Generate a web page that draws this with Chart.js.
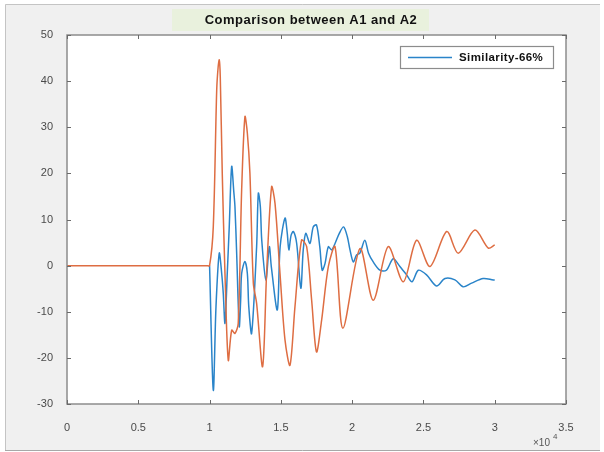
<!DOCTYPE html>
<html>
<head>
<meta charset="utf-8">
<script src="https://cdn.jsdelivr.net/npm/chart.js@4.4.1/dist/chart.umd.min.js"></script>
<style>
  html, body { margin: 0; padding: 0; background: #ffffff; }
  #wrap { width: 604px; height: 452px; }
</style>
</head>
<body>
<div id="wrap"><canvas id="cmp" width="604" height="452"></canvas></div>
<script>
const titleText = "Comparison between A1 and A2"
const legendLabel = "Similarity-66%"
const xTicks = [0, 5000, 10000, 15000, 20000, 25000, 30000, 35000]
const yTicks = [-30, -20, -10, 0, 10, 20, 30, 40, 50]

// A1 (orange), sample index vs value
const a1X = [0, 5000, 9800, 10000, 10260, 10500, 10600, 10680, 10750, 10890, 11080, 11310, 11550, 11780, 12010,
  12250, 12480, 12650, 12830, 13070, 13300, 13720, 14000, 14350, 14590, 14940, 15290, 15640,
  15990, 16450, 16810, 17160, 17500, 17860, 18330, 18800, 19350, 20550, 21480, 22530, 23590,
  24520, 25460, 26630, 27440, 28610, 29550, 30000]
const a1Y = [0, 0, 0, 0, 8.4, 38, 43, 44.6, 41, 20, -1.7, -20.5, -14, -14.7, -12.5,
  16.4, 32.3, 28.7, 20, -3.8, -8.2, -21.9, -1.7, 17.1, 13.5, -1.7, -16.1, -21.6,
  -8.9, 5.5, 4.1, -7.5, -18.7, -11.8, -0.2, 4.1, -13.6, 3.7, -7.5, 4.1, -3.5,
  5.5, -0.2, 7.4, 2.7, 7.7, 3.8, 4.5]

// A2 (blue)
const a2X = [10000, 10260, 10450, 10680, 10850, 10960, 11080, 11240, 11380, 11550, 11700, 11780,
  11900, 12080, 12180, 12250, 12480, 12650, 12750, 12950, 13300, 13420, 13560, 13660, 13950,
  14190, 14330, 14750, 14950, 15290, 15450, 15560, 15720, 15880, 16110, 16400, 16570, 16750,
  17040, 17270, 17500, 17730, 17900, 18100, 18330, 18560, 18800, 19100, 19400, 19660, 19850,
  20080, 20310, 20540, 20890, 21150, 21480, 21950, 22400, 22880, 23350, 23820, 24200, 24640,
  25220, 25920, 26510, 27210, 27790, 28380, 29190, 29900, 30000]
const a2Y = [0, -27, -8.9, 2.7, -1.7, -6, -12.5, -1.7, 8.4, 21.5, 16, 12.8,
  2.7, -13.2, -7.5, -1.7, 0.9, -1.7, -8.9, -14.7, 4.1, 15.7, 12.8, 5.5, -3.1,
  4.1, -0.2, -9.6, 4.1, 10.3, 7, 3.4, 6.6, 7.4, 4.8, -4.9, 3.4, 7,
  4.8, 8.4, 8.8, 4.1, -1, 0.5, 4.1, 3.4, 4.8, 7, 8.4, 6.3, 3.4,
  0.8, 2.3, 2.7, 5.5, 2.7, 0.8, -1, -1, 1.5, -0.2, -2, -3.5, -1,
  -2, -4.4, -2.8, -3.1, -4.6, -3.8, -2.8, -3.1, -3.1]

const toPoints = (xs, ys) => xs.map((x, i) => ({x: x, y: ys[i]}))

const area = {left: 67, top: 35, right: 566, bottom: 404}

const matlabFrame = {
  id: "matlabFrame",
  beforeDraw(chart) {
    const ctx = chart.ctx
    const ca = chart.chartArea
    ctx.save()
    ctx.fillStyle = "#ffffff"
    ctx.fillRect(0, 0, chart.width, chart.height)
    ctx.fillStyle = "#f0f0f0"
    ctx.fillRect(5, 4, 595, 446)
    ctx.strokeStyle = "#c4c4c4"
    ctx.lineWidth = 1
    ctx.beginPath()
    ctx.moveTo(5.5, 450); ctx.lineTo(5.5, 4.5); ctx.lineTo(600, 4.5)
    ctx.stroke()
    ctx.strokeStyle = "#a8a8a8"
    ctx.beginPath()
    ctx.moveTo(5, 450.5); ctx.lineTo(600, 450.5)
    ctx.stroke()
    ctx.fillStyle = "#ffffff"
    ctx.fillRect(ca.left, ca.top, ca.right - ca.left, ca.bottom - ca.top)
    ctx.restore()
  },
  afterDraw(chart) {
    const ctx = chart.ctx
    const ca = chart.chartArea
    const xs = chart.scales.x
    const ys = chart.scales.y
    ctx.save()
    // box
    ctx.strokeStyle = "#8c8c8c"
    ctx.lineWidth = 1.5
    ctx.strokeRect(ca.left, ca.top, ca.right - ca.left, ca.bottom - ca.top)
    // inward ticks on every side
    ctx.lineWidth = 1
    ctx.strokeStyle = "#6a6a6a"
    ctx.beginPath()
    xTicks.forEach(v => {
      const px = Math.round(xs.getPixelForValue(v)) + 0.5
      ctx.moveTo(px, ca.bottom); ctx.lineTo(px, ca.bottom - 4)
      ctx.moveTo(px, ca.top); ctx.lineTo(px, ca.top + 4)
    })
    yTicks.forEach(v => {
      const py = Math.round(ys.getPixelForValue(v)) + 0.5
      ctx.moveTo(ca.left, py); ctx.lineTo(ca.left + 4, py)
      ctx.moveTo(ca.right, py); ctx.lineTo(ca.right - 4, py)
    })
    ctx.stroke()
    // title with its light green backing
    ctx.fillStyle = "#e9f1dd"
    ctx.fillRect(172, 9, 257, 22)
    ctx.fillStyle = "#111111"
    ctx.font = "bold 13px 'Liberation Sans', Arial, sans-serif"
    ctx.letterSpacing = "0.5px"
    ctx.textAlign = "center"
    ctx.textBaseline = "middle"
    ctx.fillText(titleText, 311, 20)
    // legend box
    ctx.fillStyle = "#ffffff"
    ctx.fillRect(400, 46, 153, 22)
    ctx.strokeStyle = "#8c8c8c"
    ctx.lineWidth = 1.2
    ctx.strokeRect(400.5, 46.5, 153, 22)
    ctx.strokeStyle = chart.data.datasets[0].borderColor
    ctx.lineWidth = 1.5
    ctx.beginPath()
    ctx.moveTo(408, 57.5); ctx.lineTo(452, 57.5)
    ctx.stroke()
    ctx.fillStyle = "#111111"
    ctx.font = "bold 11.5px 'Liberation Sans', Arial, sans-serif"
    ctx.letterSpacing = "0.4px"
    ctx.textAlign = "left"
    ctx.fillText(legendLabel, 459, 58)
    ctx.letterSpacing = "0px"
    // exponent label
    ctx.fillStyle = "#555555"
    ctx.font = "10px 'Liberation Sans', Arial, sans-serif"
    ctx.fillText("\u00d710", 533, 443)
    ctx.font = "8px 'Liberation Sans', Arial, sans-serif"
    ctx.fillText("4", 553, 437)
    ctx.restore()
  }
}

new Chart(document.getElementById("cmp"), {
  type: "line",
  data: {
    datasets: [{
      label: legendLabel,
      data: toPoints(a2X, a2Y),
      borderColor: "#2a84c9",
      borderWidth: 1.5,
      pointRadius: 0,
      tension: 0.3,
      order: 1
    }, {
      label: "A1",
      data: toPoints(a1X, a1Y),
      borderColor: "#de6d42",
      borderWidth: 1.5,
      pointRadius: 0,
      tension: 0.3,
      order: 0
    }]
  },
  options: {
    responsive: false,
    animation: false,
    layout: {
      padding: {left: 0, top: area.top, right: 604 - area.right, bottom: 0}
    },
    plugins: {
      legend: { display: false },
      title: { display: false },
      tooltip: { enabled: false }
    },
    scales: {
      x: {
        type: "linear",
        min: 0,
        max: 35000,
        afterFit: (scale) => { scale.height = 452 - area.bottom },
        afterBuildTicks: (scale) => { scale.ticks = xTicks.map(v => ({value: v})) },
        grid: { display: false },
        border: { display: false },
        ticks: {
          color: "#4a4a4a",
          font: { family: "'Liberation Sans', Arial, sans-serif", size: 11 },
          padding: 9,
          maxRotation: 0,
          callback: (v) => String(v / 10000)
        }
      },
      y: {
        min: -30,
        max: 50,
        afterFit: (scale) => { scale.width = area.left },
        afterBuildTicks: (scale) => { scale.ticks = yTicks.map(v => ({value: v})) },
        grid: { display: false },
        border: { display: false },
        ticks: {
          color: "#4a4a4a",
          font: { family: "'Liberation Sans', Arial, sans-serif", size: 11 },
          padding: 6
        }
      }
    }
  },
  plugins: [matlabFrame]
})
</script>
</body>
</html>
